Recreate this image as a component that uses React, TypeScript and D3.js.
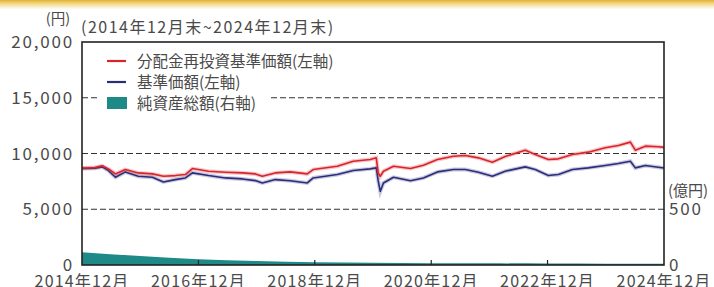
import React, { useEffect, useRef } from "react";
import * as d3 from "d3";

// 基準価額の推移
const dates = [
  "2014-12-30", "2015-01-20", "2015-03-22", "2015-05-06", "2015-06-14", "2015-07-28",
  "2015-09-28", "2015-12-18", "2016-03-16", "2016-05-24", "2016-08-07", "2016-10-09",
  "2016-11-22", "2017-03-03", "2017-06-17", "2017-10-02", "2017-12-22", "2018-02-04",
  "2018-04-26", "2018-07-29", "2018-11-13", "2018-12-20", "2019-05-20", "2019-08-28",
  "2019-12-13", "2020-01-20", "2020-02-01", "2020-02-14", "2020-03-05", "2020-05-07",
  "2020-08-22", "2020-11-11", "2021-02-07", "2021-05-18", "2021-08-01", "2021-10-22",
  "2022-01-18", "2022-04-08", "2022-08-12", "2022-10-14", "2023-01-04", "2023-03-08",
  "2023-06-04", "2023-09-12", "2023-12-27", "2024-03-18", "2024-06-02", "2024-07-03",
  "2024-09-04", "2024-11-24", "2024-12-30",
];

// 分配金再投資基準価額
const reinvested = [
  8700, 8700, 8750, 8900, 8620, 8170,
  8560, 8260, 8170, 7960, 8020, 8110,
  8650, 8410, 8320, 8260, 8170, 7960,
  8260, 8350, 8170, 8560, 8860, 9300,
  9460, 9610, 8260, 7960, 8410, 8860,
  8650, 8950, 9460, 9760, 9820, 9610,
  9220, 9730, 10300, 9910, 9460, 9520,
  9910, 10120, 10510, 10720, 11020, 10300,
  10660, 10600, 10550,
];

// 基準価額
const nav = [
  8650, 8650, 8680, 8800, 8470, 7870,
  8350, 7960, 7870, 7450, 7660, 7810,
  8260, 8020, 7810, 7720, 7570, 7360,
  7660, 7560, 7360, 7810, 8110, 8470,
  8620, 8710, 7560, 6600, 7360, 7870,
  7560, 7810, 8350, 8560, 8560, 8320,
  7960, 8410, 8800, 8560, 8020, 8110,
  8560, 8710, 8920, 9100, 9310, 8710,
  8920, 8770, 8700,
];

// 純資産総額 (億円)
const assetDates = [
  "2014-12-30", "2015-12-30", "2016-12-30", "2017-12-30", "2018-12-30", "2019-12-30",
  "2020-12-30", "2021-12-30", "2022-12-30", "2023-12-30", "2024-12-30",
];
const netAssets = [115, 80, 52, 35, 25, 20, 15, 15, 13, 12, 12];

const leftTicks = [0, 5000, 10000, 15000, 20000];
const rightTicks = [0, 500];
const xTicks = ["2014-12-30", "2016-12-30", "2018-12-30", "2020-12-30", "2022-12-30", "2024-12-30"];

const legendItems = ["分配金再投資基準価額(左軸)", "基準価額(左軸)", "純資産総額(右軸)"];

const FONT = "'Noto Sans CJK JP', 'Noto Sans', sans-serif";
const TXT = "#4a4a4a";

export default function App() {
  const ref = useRef<SVGSVGElement>(null);

  useEffect(() => {
    const svg = d3.select(ref.current);
    svg.selectAll("*").remove();

    const left = 82, right = 664, top = 42, bottom = 265;
    const parse = d3.timeParse("%Y-%m-%d");

    const x = d3.scaleTime()
      .domain([parse("2014-12-30")!, parse("2024-12-30")!])
      .range([left, right]);
    const y = d3.scaleLinear().domain([0, 20000]).range([bottom, top]);
    const yr = d3.scaleLinear().domain([0, 2000]).range([bottom, top]);

    // top band
    const defs = svg.append("defs");
    const grad = defs.append("linearGradient").attr("id", "band").attr("x1", 0).attr("y1", 0).attr("x2", 0).attr("y2", 1);
    grad.append("stop").attr("offset", "0%").attr("stop-color", "#e3b22c");
    grad.append("stop").attr("offset", "35%").attr("stop-color", "#f0d47e");
    grad.append("stop").attr("offset", "100%").attr("stop-color", "#fffdf2");
    svg.append("rect").attr("x", 0).attr("y", 0).attr("width", 714).attr("height", 9).attr("fill", "url(#band)");

    // gridlines
    svg.append("g").selectAll("line").data(leftTicks.filter((d) => d > 0 && d < 20000)).join("line")
      .attr("x1", left).attr("x2", right)
      .attr("y1", (d) => y(d)).attr("y2", (d) => y(d))
      .attr("stroke", "#333").attr("stroke-width", 1.2).attr("stroke-dasharray", "6,3");

    // net assets area
    const assets = assetDates.map((d, i) => ({ date: parse(d)!, v: netAssets[i] }));
    svg.append("path").datum(assets)
      .attr("d", d3.area<any>().x((d) => x(d.date)).y0(bottom).y1((d) => yr(d.v)).curve(d3.curveMonotoneX))
      .attr("fill", "#1d8a88");

    // lines
    const series = [
      { vals: nav, color: "#2b2d7c" },
      { vals: reinvested, color: "#d9242c" },
    ];
    const line = d3.line<any>().x((d) => x(d.date)).y((d) => y(d.v));
    series.forEach((s) => {
      const pts = dates.map((d, i) => ({ date: parse(d)!, v: s.vals[i] }));
      svg.append("path").datum(pts).attr("d", line).attr("fill", "none")
        .attr("stroke", s.color).attr("stroke-opacity", 0.25).attr("stroke-width", 4);
      svg.append("path").datum(pts).attr("d", line).attr("fill", "none")
        .attr("stroke", s.color).attr("stroke-width", 1.6).attr("stroke-linejoin", "round");
    });

    // x ticks (inside)
    svg.append("g").selectAll("line").data(xTicks.slice(1, -1)).join("line")
      .attr("x1", (d) => x(parse(d)!)).attr("x2", (d) => x(parse(d)!))
      .attr("y1", bottom).attr("y2", bottom - 5)
      .attr("stroke", "#222").attr("stroke-width", 1.2);

    // frame
    svg.append("rect").attr("x", left).attr("y", top).attr("width", right - left).attr("height", bottom - top)
      .attr("fill", "none").attr("stroke", "#222").attr("stroke-width", 1.6);

    // legend
    const lg = svg.append("g");
    lg.append("rect").attr("x", 97).attr("y", 50).attr("width", 172).attr("height", 62).attr("fill", "#fff");
    const ly = [61, 82, 103];
    lg.append("line").attr("x1", 107).attr("x2", 126).attr("y1", ly[0]).attr("y2", ly[0]).attr("stroke", "#d9242c").attr("stroke-width", 2.2);
    lg.append("line").attr("x1", 107).attr("x2", 126).attr("y1", ly[1]).attr("y2", ly[1]).attr("stroke", "#2b2d7c").attr("stroke-width", 2.2);
    lg.append("rect").attr("x", 107).attr("y", ly[2] - 6).attr("width", 20).attr("height", 12).attr("fill", "#1d8a88");
    lg.selectAll("text").data(legendItems).join("text")
      .attr("x", 137).attr("y", (d, i) => ly[i]).attr("dy", "0.36em")
      .attr("font-size", 15.5).attr("font-family", FONT).attr("fill", TXT)
      .text((d) => d);

    // left axis labels
    svg.append("g").selectAll("text").data(leftTicks).join("text")
      .attr("x", 74).attr("y", (d) => y(d)).attr("dy", "0.36em").attr("text-anchor", "end")
      .attr("font-size", 17).attr("letter-spacing", 1.8).attr("font-family", FONT).attr("fill", TXT)
      .text((d) => d3.format(",")(d));

    // right axis labels
    svg.append("g").selectAll("text").data(rightTicks).join("text")
      .attr("x", 669).attr("y", (d) => yr(d)).attr("dy", "0.36em")
      .attr("font-size", 17).attr("letter-spacing", 1.8).attr("font-family", FONT).attr("fill", TXT)
      .text((d) => String(d));

    // x labels
    svg.append("g").selectAll("text").data(xTicks).join("text")
      .attr("x", (d) => x(parse(d)!)).attr("y", 281).attr("dy", "0.36em").attr("text-anchor", "middle")
      .attr("font-size", 16).attr("letter-spacing", 1.2).attr("font-family", FONT).attr("fill", TXT)
      .text((d) => `${d.slice(0, 4)}年12月`);

    // units & period
    svg.append("text").attr("x", 58).attr("y", 19).attr("dy", "0.36em").attr("text-anchor", "middle")
      .attr("font-size", 14.5).attr("font-family", FONT).attr("fill", TXT).text("(円)");
    svg.append("text").attr("x", 81).attr("y", 27).attr("dy", "0.36em")
      .attr("font-size", 16).attr("letter-spacing", 1.5).attr("font-family", FONT).attr("fill", TXT)
      .text("(2014年12月末~2024年12月末)");
    svg.append("text").attr("x", 668).attr("y", 191).attr("dy", "0.36em")
      .attr("font-size", 15).attr("font-family", FONT).attr("fill", TXT).text("(億円)");
  }, []);

  return (
    <svg ref={ref} width={714} height={287}
      style={{ position: "absolute", left: 0, top: 0, background: "#fff" }} />
  );
}
